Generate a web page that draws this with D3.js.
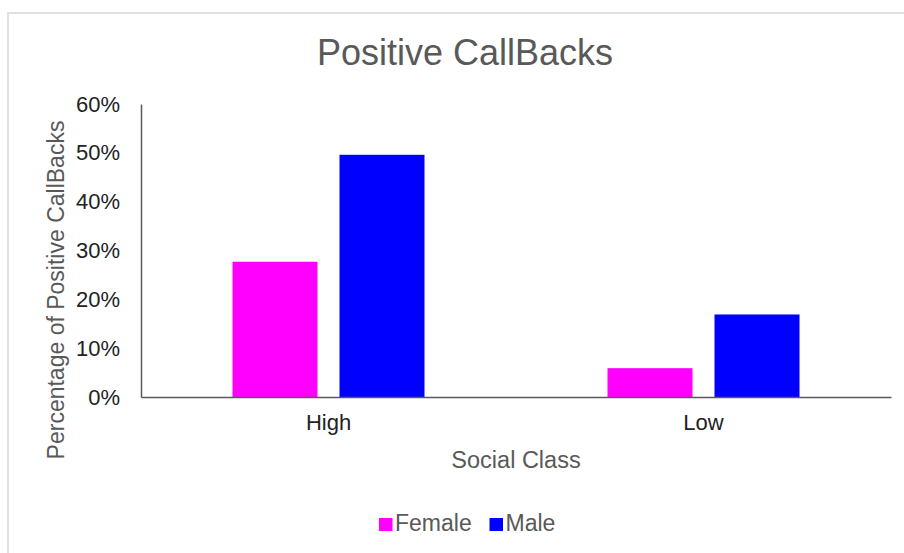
<!DOCTYPE html>
<html><head><meta charset="utf-8">
<script src="https://cdn.jsdelivr.net/npm/d3@7"></script>
<style>html,body{margin:0;padding:0;background:#fff;}svg{display:block;font-family:"Liberation Sans",Arial,sans-serif;}</style>
</head><body>
<script>
const categories = ["High", "Low"];
const seriesNames = ["Female", "Male"];
const femaleValues = [0.277, 0.059];
const maleValues = [0.496, 0.169];
const yTicks = [0, 0.1, 0.2, 0.3, 0.4, 0.5, 0.6];
const colors = ["#ff00ff", "#0000ff"];

const W = 904, H = 553;
const svg = d3.select("body").append("svg").attr("width", W).attr("height", H);

// outer border
svg.append("rect").attr("x", 8).attr("y", 13).attr("width", W + 10).attr("height", H + 10)
  .attr("fill", "#fff").attr("stroke", "#e0e0e0").attr("stroke-width", 2);

const pLeft = 141, pRight = 891, pTop = 104, pBottom = 397;

const x0 = d3.scaleBand().domain(categories).range([pLeft, pRight]).paddingInner(0.488).paddingOuter(0.244);
const x1 = d3.scaleBand().domain(seriesNames).range([0, x0.bandwidth()]).paddingInner(0.2056).paddingOuter(0);
const y = d3.scaleLinear().domain([0, 0.6]).range([pBottom, pTop]);

const data = categories.map((c, i) => ({cat: c, vals: [
  {s: "Female", v: femaleValues[i]}, {s: "Male", v: maleValues[i]}]}));

const groups = svg.append("g").selectAll("g").data(data).join("g")
  .attr("transform", d => `translate(${x0(d.cat)},0)`);
groups.selectAll("rect").data(d => d.vals).join("rect")
  .attr("x", d => x1(d.s)).attr("width", x1.bandwidth())
  .attr("y", d => y(d.v)).attr("height", d => y(0) - y(d.v))
  .attr("fill", (d, i) => colors[i]);

// y axis
const yAxis = d3.axisLeft(y).tickValues(yTicks).tickFormat(d3.format(".0%")).tickSize(0).tickPadding(21);
const gy = svg.append("g").attr("transform", `translate(${pLeft},0)`).call(yAxis);
gy.select(".domain").attr("stroke", "#5a5a5a").attr("stroke-width", 1.5);
gy.selectAll("text").attr("font-size", 22).attr("fill", "#222").attr("font-family", "Liberation Sans, Arial, sans-serif");

// x axis
const xAxis = d3.axisBottom(x0).tickSize(0).tickPadding(17);
const gx = svg.append("g").attr("transform", `translate(0,${pBottom})`).call(xAxis);
gx.select(".domain").attr("stroke", "#5a5a5a").attr("stroke-width", 1.5);
gx.selectAll("text").attr("font-size", 22).attr("fill", "#222").attr("font-family", "Liberation Sans, Arial, sans-serif");

// title
svg.append("text").attr("x", 465).attr("y", 65).attr("text-anchor", "middle")
  .attr("font-size", 36).attr("fill", "#595959").text("Positive CallBacks");

// axis titles
svg.append("text").attr("x", (pLeft + pRight) / 2).attr("y", 468).attr("text-anchor", "middle")
  .attr("font-size", 23.5).attr("fill", "#595959").text("Social Class");
svg.append("text").attr("transform", `translate(64,290) rotate(-90)`).attr("text-anchor", "middle")
  .attr("font-size", 23).attr("fill", "#595959").text("Percentage of Positive CallBacks");

// legend
const legendX = [379, 489.5];
const lg = svg.append("g").selectAll("g").data(seriesNames).join("g")
  .attr("transform", (d, i) => `translate(${legendX[i]},518)`);
lg.append("rect").attr("width", 13.5).attr("height", 13).attr("fill", (d, i) => colors[i]);
lg.append("text").attr("x", 16).attr("y", 13).attr("font-size", 23).attr("fill", "#595959").text(d => d);
</script>
</body></html>
